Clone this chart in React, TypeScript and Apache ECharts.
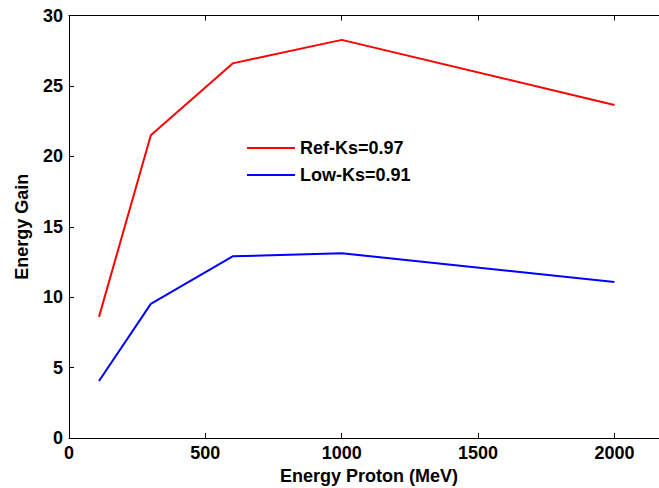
import React, { useEffect, useRef } from "react";
import * as echarts from "echarts";

const protonEnergy = [110, 300, 600, 1000, 2000];
const refKs = [8.6, 21.5, 26.6, 28.27, 23.65];
const lowKs = [4.05, 9.52, 12.9, 13.12, 11.08];
const seriesNames = ["Ref-Ks=0.97", "Low-Ks=0.91"];

const FONT = "'Liberation Sans', Arial, sans-serif";

export default function App() {
  const ref = useRef<HTMLDivElement>(null);
  useEffect(() => {
    if (!ref.current) return;
    const chart = echarts.init(ref.current, undefined, { renderer: "svg" });
    const tickLabel = {
      color: "#000",
      fontFamily: FONT,
      fontWeight: "bold" as const,
      fontSize: 18,
    };
    chart.setOption({
      animation: false,
      backgroundColor: "#fff",
      grid: {
        left: 69,
        top: 15.5,
        width: 600,
        height: 422.5,
        containLabel: false,
        outerBoundsMode: "none",
      },
      legend: {
        orient: "vertical",
        left: 247,
        top: 139,
        padding: 0,
        icon: "rect",
        itemWidth: 48,
        itemHeight: 2,
        itemGap: 9,
        textStyle: { ...tickLabel, fontSize: 18, padding: [0, 0, 0, 0] },
        data: seriesNames,
      },
      xAxis: [
        {
          type: "value",
          position: "bottom",
          min: 0,
          max: 2200,
          interval: 500,
          name: "Energy Proton (MeV)",
          nameLocation: "middle",
          nameGap: 25,
          nameTextStyle: tickLabel,
          axisLine: { show: true, lineStyle: { color: "#000", width: 1 } },
          axisTick: { show: true, inside: true, length: 5, lineStyle: { color: "#000" } },
          axisLabel: {
            ...tickLabel,
            margin: 6,
            formatter: (v: number) => (v % 500 === 0 ? String(v) : ""),
          },
          splitLine: { show: false },
        },
        {
          type: "value",
          position: "top",
          min: 0,
          max: 2200,
          interval: 500,
          axisLine: { show: true, lineStyle: { color: "#000", width: 1 } },
          axisTick: { show: true, inside: true, length: 5, lineStyle: { color: "#000" } },
          axisLabel: { show: false },
          splitLine: { show: false },
        },
      ],
      yAxis: {
        type: "value",
        min: 0,
        max: 30,
        interval: 5,
        name: "Energy Gain",
        nameLocation: "middle",
        nameGap: 38,
        nameTextStyle: tickLabel,
        axisLine: { show: true, lineStyle: { color: "#000", width: 1 } },
        axisTick: { show: true, inside: true, length: 5, lineStyle: { color: "#000" } },
        axisLabel: { ...tickLabel, margin: 6 },
        splitLine: { show: false },
      },
      series: [
        {
          name: seriesNames[0],
          type: "line",
          symbol: "none",
          color: "#ff0000",
          lineStyle: { color: "#ff0000", width: 2 },
          data: protonEnergy.map((x, i) => [x, refKs[i]]),
        },
        {
          name: seriesNames[1],
          type: "line",
          symbol: "none",
          color: "#0000ff",
          lineStyle: { color: "#0000ff", width: 2 },
          data: protonEnergy.map((x, i) => [x, lowKs[i]]),
        },
      ],
    });
    return () => chart.dispose();
  }, []);
  return (
    <div
      ref={ref}
      style={{ position: "fixed", left: 0, top: 0, width: 659, height: 488 }}
    />
  );
}
